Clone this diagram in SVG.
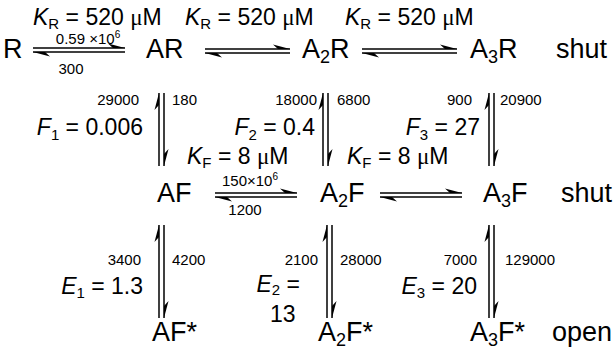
<svg xmlns="http://www.w3.org/2000/svg" width="616" height="350" viewBox="0 0 616 350">
<style>
text{font-family:"Liberation Sans",Arial,sans-serif;fill:#000}
.n{font-size:27px}
.k{font-size:23px}
.r{font-size:15px}
.i{font-style:italic}
.mu{font-family:"Liberation Serif","Times New Roman",serif}
.ar{stroke:#000;stroke-width:1.5;fill:none;marker-end:url(#h)}
</style>
<defs>
<marker id="h" viewBox="-18 -6 20 8" refX="0" refY="0" markerWidth="20" markerHeight="8" markerUnits="userSpaceOnUse" orient="auto" overflow="visible"><path d="M0,0 L-17,-4.5 L-12,0 Z" fill="#000"/></marker>
</defs>
<rect width="616" height="350" fill="#fff"/>
<g id="constants">
<text class="k" x="33" y="25"><tspan class="i">K</tspan><tspan font-size="15" dy="4">R</tspan><tspan dy="-4"> = 520 </tspan><tspan class="mu">μ</tspan>M</text>
<text class="k" x="185" y="25"><tspan class="i">K</tspan><tspan font-size="15" dy="4">R</tspan><tspan dy="-4"> = 520 </tspan><tspan class="mu">μ</tspan>M</text>
<text class="k" x="345" y="25"><tspan class="i">K</tspan><tspan font-size="15" dy="4">R</tspan><tspan dy="-4"> = 520 </tspan><tspan class="mu">μ</tspan>M</text>
<text class="k" x="187" y="164"><tspan class="i">K</tspan><tspan font-size="15" dy="4">F</tspan><tspan dy="-4"> = 8 </tspan><tspan class="mu">μ</tspan>M</text>
<text class="k" x="347" y="164"><tspan class="i">K</tspan><tspan font-size="15" dy="4">F</tspan><tspan dy="-4"> = 8 </tspan><tspan class="mu">μ</tspan>M</text>
<text class="k" x="143" y="135" text-anchor="end"><tspan class="i">F</tspan><tspan font-size="15" dy="5">1</tspan><tspan dy="-5"> = 0.006</tspan></text>
<text class="k" x="315" y="135" text-anchor="end"><tspan class="i">F</tspan><tspan font-size="15" dy="5">2</tspan><tspan dy="-5"> = 0.4</tspan></text>
<text class="k" x="480" y="135" text-anchor="end"><tspan class="i">F</tspan><tspan font-size="15" dy="5">3</tspan><tspan dy="-5"> = 27</tspan></text>
<text class="k" x="143" y="294" text-anchor="end"><tspan class="i">E</tspan><tspan font-size="15" dy="4">1</tspan><tspan dy="-4"> = 1.3</tspan></text>
<text class="k" x="300" y="292" text-anchor="end"><tspan class="i">E</tspan><tspan font-size="15" dy="3">2</tspan><tspan dy="-3"> =</tspan></text>
<text class="k" x="270" y="322">13</text>
<text class="k" x="477" y="294" text-anchor="end"><tspan class="i">E</tspan><tspan font-size="15" dy="4">3</tspan><tspan dy="-4"> = 20</tspan></text>
</g>
<g id="R"><text class="n" x="3" y="58">R</text></g>
<g id="AR"><text class="n" x="146" y="58">AR</text></g>
<g id="A2R"><text class="n" x="302" y="58">A<tspan font-size="18" dy="5">2</tspan><tspan dy="-5">R</tspan></text></g>
<g id="A3R"><text class="n" x="470" y="58">A<tspan font-size="18" dy="5">3</tspan><tspan dy="-5">R</tspan></text></g>
<g id="shut1"><text class="n" x="556" y="58">shut</text></g>
<g id="AF"><text class="n" x="157" y="202">AF</text></g>
<g id="A2F"><text class="n" x="320" y="202">A<tspan font-size="18" dy="5">2</tspan><tspan dy="-5">F</tspan></text></g>
<g id="A3F"><text class="n" x="483" y="202">A<tspan font-size="18" dy="5">3</tspan><tspan dy="-5">F</tspan></text></g>
<g id="shut2"><text class="n" x="561" y="202">shut</text></g>
<g id="AFs"><text class="n" x="152" y="341">AF*</text></g>
<g id="A2Fs"><text class="n" x="318" y="341">A<tspan font-size="18" dy="5">2</tspan><tspan dy="-5">F*</tspan></text></g>
<g id="A3Fs"><text class="n" x="470" y="341">A<tspan font-size="18" dy="5">3</tspan><tspan dy="-5">F*</tspan></text></g>
<g id="open"><text class="n" x="552" y="341">open</text></g>
<g id="connectors">
<path class="ar" d="M33,48 H125"/><path class="ar" d="M125,52 H33"/>
<path class="ar" d="M205,49 H290"/><path class="ar" d="M290,53 H205"/>
<path class="ar" d="M362,49 H457"/><path class="ar" d="M457,53 H362"/>
<path class="ar" d="M215,193 H297"/><path class="ar" d="M297,197 H215"/>
<path class="ar" d="M380,193 H462"/><path class="ar" d="M462,197 H380"/>
<path class="ar" d="M159,166 V93"/><path class="ar" d="M164,93 V166"/>
<path class="ar" d="M323,166 V93"/><path class="ar" d="M328,93 V166"/>
<path class="ar" d="M489,166 V93"/><path class="ar" d="M494,93 V166"/>
<path class="ar" d="M159,318 V225"/><path class="ar" d="M164,225 V318"/>
<path class="ar" d="M327,318 V225"/><path class="ar" d="M332,225 V318"/>
<path class="ar" d="M489,318 V225"/><path class="ar" d="M494,225 V318"/>
</g>
<g id="rates">
<text class="r" x="88" y="44" text-anchor="middle">0.59 ×10<tspan font-size="10" dy="-6">6</tspan></text>
<text class="r" x="71" y="74" text-anchor="middle">300</text>
<text class="r" x="250" y="186" text-anchor="middle">150×10<tspan font-size="10" dy="-6">6</tspan></text>
<text class="r" x="245" y="215" text-anchor="middle">1200</text>
<text class="r" x="139" y="105" text-anchor="end">29000</text>
<text class="r" x="172" y="105">180</text>
<text class="r" x="317" y="105" text-anchor="end">18000</text>
<text class="r" x="337" y="105">6800</text>
<text class="r" x="472" y="105" text-anchor="end">900</text>
<text class="r" x="500" y="105">20900</text>
<text class="r" x="141" y="265" text-anchor="end">3400</text>
<text class="r" x="172" y="265">4200</text>
<text class="r" x="318" y="265" text-anchor="end">2100</text>
<text class="r" x="340" y="265">28000</text>
<text class="r" x="477" y="265" text-anchor="end">7000</text>
<text class="r" x="505" y="265">129000</text>
</g>
</svg>
